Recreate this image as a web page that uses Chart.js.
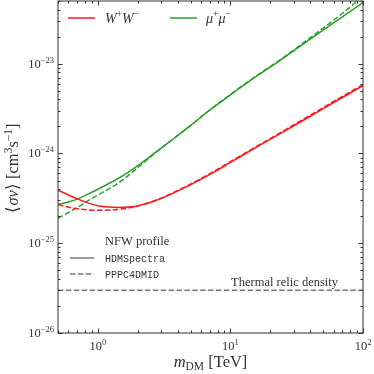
<!DOCTYPE html>
<html>
<head>
<meta charset="utf-8">
<script src="https://cdn.jsdelivr.net/npm/chart.js@4/dist/chart.umd.min.js"></script>
<style>
  html, body { margin: 0; padding: 0; background: #fff; }
  #chart { display: block; }
</style>
</head>
<body>
<canvas id="chart" width="374" height="374"></canvas>
<script>
// dark matter mass grid [TeV]
const massTeV = [0.5, 0.6, 0.7, 0.85, 1.0, 1.2, 1.4, 1.7, 2.1, 2.7, 3.4, 4.8, 7, 10, 15, 25, 40, 60, 100];

// <sigma v> limits [cm^3 s^-1]
const wwHDM = [3.9e-25, 3.45e-25, 3.12e-25, 2.8e-25, 2.62e-25, 2.53e-25, 2.5e-25, 2.53e-25, 2.66e-25, 2.97e-25,
  3.42e-25, 4.35e-25, 5.85e-25, 7.95e-25, 1.13e-24, 1.74e-24, 2.6e-24, 3.7e-24, 5.7e-24];
const wwPPPC = [2.7e-25, 2.52e-25, 2.42e-25, 2.35e-25, 2.33e-25, 2.34e-25, 2.38e-25, 2.47e-25, 2.65e-25, 2.99e-25,
  3.46e-25, 4.42e-25, 5.97e-25, 8.1e-25, 1.15e-24, 1.78e-24, 2.67e-24, 3.8e-24, 5.85e-24];
const mumuHDM = [2.7e-25, 2.88e-25, 3.1e-25, 3.55e-25, 4.0e-25, 4.6e-25, 5.2e-25, 6.2e-25, 7.7e-25, 1.02e-24,
  1.32e-24, 1.95e-24, 3.05e-24, 4.5e-24, 6.9e-24, 1.15e-23, 1.88e-23, 2.85e-23, 4.8e-23];
const mumuPPPC = [1.9e-25, 2.2e-25, 2.5e-25, 3.0e-25, 3.45e-25, 4.0e-25, 4.6e-25, 5.7e-25, 7.4e-25, 1.01e-24,
  1.32e-24, 1.95e-24, 3.07e-24, 4.55e-24, 7.0e-24, 1.17e-23, 1.95e-23, 3.05e-23, 5.6e-23];
const thermalRelic = 3e-26;

// axis ticks
const xMajor = [1, 10, 100];
const xMajorExp = ['0', '1', '2'];
const yMajor = [1e-26, 1e-25, 1e-24, 1e-23];
const yMajorExp = ['\u221226', '\u221225', '\u221224', '\u221223'];

const RED = '#ff1a1a';
const GREEN = '#2ca02c';
const GRAY = '#7a7a7a';
const INK = '#333';
const SERIF = "'Liberation Serif', serif";
const MONO = "'Liberation Mono', monospace";
const DASH = [5.5, 2.4];

function pts(ys) {
  return massTeV.map((m, i) => ({ x: m, y: ys[i] }));
}

function lineSet(label, ys, color, dashed) {
  return {
    label,
    data: pts(ys),
    borderColor: color,
    borderWidth: 1.5,
    borderDash: dashed ? DASH : [],
    pointRadius: 0,
    cubicInterpolationMode: 'monotone',
    fill: false
  };
}

// draw a run of text pieces (for super/subscripts)
function rich(ctx, x, y, parts, align) {
  let w = 0;
  parts.forEach(p => {
    ctx.font = (p.it ? 'italic ' : '') + p.size + 'px ' + (p.fam || SERIF);
    p.w = ctx.measureText(p.t).width;
    w += p.w;
  });
  let cx = align === 'right' ? x - w : align === 'center' ? x - w / 2 : x;
  ctx.textBaseline = 'alphabetic';
  ctx.textAlign = 'left';
  parts.forEach(p => {
    ctx.font = (p.it ? 'italic ' : '') + p.size + 'px ' + (p.fam || SERIF);
    ctx.fillText(p.t, cx, y + (p.dy || 0));
    cx += p.w;
  });
}

const decor = {
  id: 'decor',
  afterDraw(chart) {
    const { ctx, chartArea: a, scales: { x, y } } = chart;
    ctx.save();

    // frame
    ctx.strokeStyle = INK;
    ctx.lineWidth = 1;
    ctx.strokeRect(a.left, a.top, a.right - a.left, a.bottom - a.top);

    // inward ticks, all four sides
    const tick = (px, len, vertical) => {
      ctx.beginPath();
      if (vertical) {
        ctx.moveTo(px, a.bottom); ctx.lineTo(px, a.bottom - len);
        ctx.moveTo(px, a.top); ctx.lineTo(px, a.top + len);
      } else {
        ctx.moveTo(a.left, px); ctx.lineTo(a.left + len, px);
        ctx.moveTo(a.right, px); ctx.lineTo(a.right - len, px);
      }
      ctx.stroke();
    };
    for (let e = -1; e <= 2; e++) {
      for (let k = 1; k <= 9; k++) {
        const v = k * Math.pow(10, e);
        if (v < 0.5 || v > 100) continue;
        tick(Math.round(x.getPixelForValue(v)) + 0.5, k === 1 ? 4.5 : 2.5, true);
      }
    }
    for (let e = -26; e <= -23; e++) {
      for (let k = 1; k <= 9; k++) {
        const v = k * Math.pow(10, e);
        if (v > 5e-23) continue;
        tick(Math.round(y.getPixelForValue(v)) + 0.5, k === 1 ? 4.5 : 2.5, false);
      }
    }

    // tick labels
    ctx.fillStyle = INK;
    xMajor.forEach((v, i) => {
      rich(ctx, x.getPixelForValue(v), a.bottom + 17, [
        { t: '10', size: 12.5 }, { t: xMajorExp[i], size: 8.5, dy: -5 }
      ], 'center');
    });
    yMajor.forEach((v, i) => {
      rich(ctx, a.left - 4, y.getPixelForValue(v) + 4, [
        { t: '10', size: 12.5 }, { t: yMajorExp[i], size: 8.5, dy: -5 }
      ], 'right');
    });

    // axis titles
    rich(ctx, (a.left + a.right) / 2, 367, [
      { t: 'm', size: 16.5, it: true }, { t: 'DM', size: 11.5, dy: 3 }, { t: ' [TeV]', size: 16.5 }
    ], 'center');
    ctx.save();
    ctx.translate(18, 168);
    ctx.rotate(-Math.PI / 2);
    rich(ctx, 0, 0, [
      { t: '\u27E8', size: 16.5 }, { t: '\u03C3v', size: 16.5, it: true }, { t: '\u27E9', size: 16.5 },
      { t: ' [cm', size: 16.5 }, { t: '3', size: 11.5, dy: -6.5 }, { t: 's', size: 16.5 },
      { t: '\u22121', size: 11.5, dy: -6.5 }, { t: ']', size: 16.5 }
    ], 'center');
    ctx.restore();

    // channel legend
    const seg = (x0, x1, yy, color, dashed) => {
      ctx.strokeStyle = color;
      ctx.lineWidth = 1.5;
      ctx.setLineDash(dashed ? DASH : []);
      ctx.beginPath(); ctx.moveTo(x0, yy); ctx.lineTo(x1, yy); ctx.stroke();
      ctx.setLineDash([]);
    };
    seg(68, 95, 18, RED, false);
    seg(170, 197, 18, GREEN, false);
    ctx.fillStyle = INK;
    rich(ctx, 105, 23, [
      { t: 'W', size: 14, it: true }, { t: '+', size: 9.5, dy: -6 },
      { t: 'W', size: 14, it: true }, { t: '\u2212', size: 9.5, dy: -6 }
    ], 'left');
    rich(ctx, 206, 23, [
      { t: '\u03BC', size: 14, it: true }, { t: '+', size: 9.5, dy: -6 },
      { t: '\u03BC', size: 14, it: true }, { t: '\u2212', size: 9.5, dy: -6 }
    ], 'left');

    // spectra legend
    rich(ctx, 105, 245, [{ t: 'NFW profile', size: 12.5 }], 'left');
    seg(70, 94, 258, GRAY, false);
    seg(70, 94, 274, GRAY, true);
    ctx.fillStyle = INK;
    rich(ctx, 105, 261.5, [{ t: 'HDMSpectra', size: 10, fam: MONO }], 'left');
    rich(ctx, 105, 277.5, [{ t: 'PPPC4DMID', size: 10, fam: MONO }], 'left');

    // thermal relic annotation
    rich(ctx, 338, y.getPixelForValue(thermalRelic) - 4, [{ t: 'Thermal relic density', size: 12.5 }], 'right');

    ctx.restore();
  }
};

new Chart(document.getElementById('chart'), {
  type: 'line',
  data: {
    datasets: [
      lineSet('W+W- HDMSpectra', wwHDM, RED, false),
      lineSet('W+W- PPPC4DMID', wwPPPC, RED, true),
      lineSet('mu+mu- HDMSpectra', mumuHDM, GREEN, false),
      lineSet('mu+mu- PPPC4DMID', mumuPPPC, GREEN, true),
      {
        label: 'Thermal relic density',
        data: [{ x: 0.5, y: thermalRelic }, { x: 100, y: thermalRelic }],
        borderColor: GRAY,
        borderWidth: 1.5,
        borderDash: DASH,
        pointRadius: 0
      }
    ]
  },
  options: {
    responsive: false,
    devicePixelRatio: 1,
    animation: false,
    layout: { padding: { left: 58, right: 11, top: 1, bottom: 41 } },
    plugins: { legend: { display: false }, tooltip: { enabled: false } },
    scales: {
      x: { type: 'logarithmic', min: 0.5, max: 100, display: false },
      y: { type: 'logarithmic', min: 1e-26, max: 5e-23, display: false }
    }
  },
  plugins: [decor]
});
</script>
</body>
</html>
